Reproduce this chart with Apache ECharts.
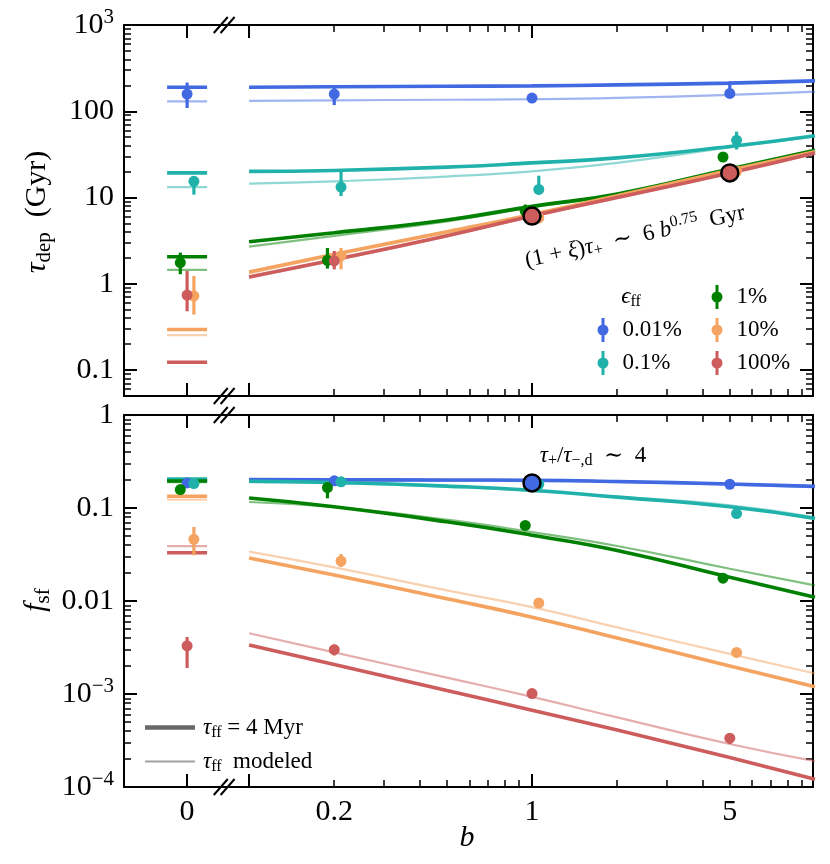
<!DOCTYPE html>
<html>
<head>
<meta charset="utf-8">
<script src="https://cdn.jsdelivr.net/npm/echarts@6/dist/echarts.min.js"></script>
<style>
html,body{margin:0;padding:0;background:#fff;}
#chart{width:830px;height:864px;}
</style>
</head>
<body>
<div id="chart"></div>
<script>
// ================= DATA =================
const effLabels = ['0.01%', '0.1%', '1%', '10%', '100%'];
const bPoints = [0, 0.2, 1, 5];              // simulated b values (points)
const bCurve = [0.1, 0.2, 0.5, 1, 2, 5, 10]; // b samples of model curves

// ---- top panel: tau_dep (Gyr) ----
const tauVal = [
  [158, 158, 142, 161],
  [15.4, 13.2, 12.4, 46],
  [1.76, 1.87, 6.95, 29.5],
  [0.72, 2.1, 5.8, 20.1],
  [0.74, 1.84, 6.1, 19.3]
];
const tauLo = [
  [109, 118, 134, 150],
  [10.8, 10.4, 10.8, 36],
  [1.29, 1.5, 6.0, 26],
  [0.44, 1.47, 5.2, 18.3],
  [0.48, 1.47, 5.6, 17.8]
];
const tauHi = [
  [215, 195, 150, 222],
  [17.6, 20.5, 17.9, 58],
  [2.3, 2.6, 8.3, 32],
  [1.23, 2.6, 6.5, 22],
  [1.41, 2.4, 6.7, 21]
];
const tauThick = [
  [190, 192, 195, 197, 202, 212, 225],
  [20.1, 20.6, 22.5, 25.2, 28.8, 39, 52],
  [3.07, 3.9, 5.5, 7.9, 11.0, 21.4, 35.2],
  [1.37, 2.2, 4.0, 6.35, 10.5, 20.7, 34],
  [1.2, 1.9, 3.6, 6.1, 10.0, 19.3, 32.9]
];
const tauThin = [
  [132, 134, 136, 138, 143, 155, 169],
  [14.5, 15.4, 17.5, 20.1, 25.2, 38, 51],
  [2.69, 3.6, 5.3, 7.7, 10.8, 21, 35.5],
  [1.32, 2.15, 3.9, 6.2, 10.3, 20.4, 33.6],
  [1.18, 1.86, 3.55, 6.0, 9.9, 19.1, 32.6]
];
const tauZeroThick = [190, 19.3, 2.06, 0.295, 0.123];
const tauZeroThin = [130, 13.2, 1.45, 0.254, 0.123];
const tauHighlight = [[4, 2], [4, 3]]; // [efficiency index, point index]

// ---- bottom panel: f_sf ----
const fsfVal = [
  [0.186, 0.196, 0.186, 0.18],
  [0.183, 0.191, 0.18, 0.087],
  [0.158, 0.166, 0.065, 0.0176],
  [0.046, 0.0269, 0.0095, 0.0028],
  [0.0033, 0.0030, 0.00101, 0.000335]
];
const fsfLo = [
  [0.178, 0.188, 0.178, 0.173],
  [0.176, 0.184, 0.173, 0.083],
  [0.152, 0.127, 0.062, 0.0168],
  [0.031, 0.0233, 0.0091, 0.00268],
  [0.0019, 0.0026, 0.00097, 0.00029]
];
const fsfHi = [
  [0.194, 0.204, 0.194, 0.187],
  [0.19, 0.198, 0.187, 0.091],
  [0.165, 0.18, 0.068, 0.0185],
  [0.0625, 0.032, 0.0099, 0.0029],
  [0.0041, 0.0034, 0.00105, 0.00037]
];
const fsfThick = [
  [0.202, 0.201, 0.200, 0.199, 0.193, 0.181, 0.171],
  [0.194, 0.188, 0.172, 0.155, 0.131, 0.103, 0.077],
  [0.128, 0.103, 0.071, 0.051, 0.035, 0.018, 0.011],
  [0.029, 0.019, 0.0106, 0.0067, 0.0040, 0.002, 0.0012],
  [0.00337, 0.00208, 0.00109, 0.00067, 0.00041, 0.000207, 0.000121]
];
const fsfThin = [
  [0.197, 0.197, 0.196, 0.195, 0.19, 0.178, 0.168],
  [0.19, 0.185, 0.17, 0.152, 0.133, 0.107, 0.080],
  [0.116, 0.102, 0.075, 0.055, 0.039, 0.0222, 0.0147],
  [0.034, 0.023, 0.013, 0.0086, 0.0052, 0.0027, 0.00166],
  [0.0045, 0.0028, 0.0015, 0.00093, 0.00056, 0.00029, 0.00019]
];
const fsfZeroThick = [0.2, 0.205, 0.195, 0.134, 0.033];
const fsfZeroThin = [0.198, 0.2, 0.19, 0.123, 0.039];
const fsfHighlight = [[0, 2]];

// tick specs
const xMajorB = [0, 0.1, 1, 10];
const xMinorB = [0.2, 0.3, 0.4, 0.5, 0.6, 0.7, 0.8, 0.9, 2, 3, 4, 5, 6, 7, 8, 9];
const xLabelB = [0, 0.2, 1, 5];

// ================= STYLE / SCALE =================
const colors = ['#4169E1', '#20B2AA', '#008000', '#F4A460', '#CD5C5C'];
const F = "'Liberation Serif','DejaVu Serif',serif";
const dodge = [0, 0.024, -0.024, 0.024, 0];   // horizontal dodge (dex)
// broken axis: log10(b) for b>0, b=0 placed left of the break
const ZERO_U = -1.219, BREAK_U = -1.088, XMIN = -1.442, XMAX = 0.993;
const L = Math.log10;
const u = b => (b === 0 ? ZERO_U : Math.log10(b));
const ZHALF = 20; // half width of b=0 segments (px)

function tick(vals, len, w) {
  return {show: true, inside: true, length: len, customValues: vals, lineStyle: {color: '#000', width: w}};
}
const spine = {show: true, onZero: false, lineStyle: {color: '#000', width: 2}};

function xAxisSet(g) {
  const base = {type: 'value', gridIndex: g, min: XMIN, max: XMAX, splitLine: {show: false},
    axisLabel: {show: false}, axisLine: {show: false, onZero: false}};
  const maj = xMajorB.map(u), mn = xMinorB.map(L);
  return [
    Object.assign({}, base, {position: 'bottom', axisLine: spine, axisTick: tick(maj, 13, 2),
      axisLabel: g === 1 ? {show: true, customValues: xLabelB.map(u), margin: 10, color: '#000',
        fontFamily: F, fontSize: 30,
        formatter: v => Math.abs(v - ZERO_U) < 1e-6 ? '0' : String(+Math.pow(10, v).toPrecision(3))}
        : {show: false}}),
    Object.assign({}, base, {position: 'bottom', axisTick: tick(mn, 7, 1.5)}),
    Object.assign({}, base, {position: 'top', axisLine: spine, axisTick: tick(maj, 13, 2)}),
    Object.assign({}, base, {position: 'top', axisTick: tick(mn, 7, 1.5)})
  ];
}

function yFmt(v) {
  const r = Math.round(v);
  if (r >= 3) return '{b|10}{sup|' + r + '}';
  if (r >= 0) return String(Math.pow(10, r));
  if (r >= -2) return r === -1 ? '0.1' : '0.01';
  return '{b|10}{sup|−' + (-r) + '}';
}
function yAxisSet(g, lo, hi) {
  const min = L(lo), max = L(hi);
  const maj = [], mn = [];
  for (let e = Math.floor(min); e <= Math.ceil(max); e++) {
    if (e >= min - 1e-9 && e <= max + 1e-9) maj.push(e);
    for (let k = 2; k <= 9; k++) {
      const t = e + L(k);
      if (t >= min - 1e-9 && t <= max + 1e-9) mn.push(t);
    }
  }
  const base = {type: 'value', gridIndex: g, min, max, splitLine: {show: false},
    axisLabel: {show: false}, axisLine: {show: false, onZero: false}};
  return [
    Object.assign({}, base, {position: 'left', axisLine: spine, axisTick: tick(maj, 13, 2),
      axisLabel: {show: true, customValues: maj, formatter: yFmt, margin: 10, color: '#000',
        fontFamily: F, fontSize: 30,
        rich: {b: {fontFamily: F, fontSize: 30, color: '#000'},
               sup: {fontFamily: F, fontSize: 21, color: '#000', padding: [0, 0, 16, 0]}}}}),
    Object.assign({}, base, {position: 'left', axisTick: tick(mn, 7, 1.5)}),
    Object.assign({}, base, {position: 'right', axisLine: spine, axisTick: tick(maj, 13, 2)}),
    Object.assign({}, base, {position: 'right', axisTick: tick(mn, 7, 1.5)})
  ];
}

function errRender(color) {
  return function (params, api) {
    const p1 = api.coord([api.value(0), api.value(1)]);
    const p2 = api.coord([api.value(0), api.value(2)]);
    return {type: 'line', shape: {x1: p1[0], y1: p1[1], x2: p2[0], y2: p2[1]},
      style: {stroke: color, lineWidth: 3.2}};
  };
}
function segRender(color, width, opacity) {
  return function (params, api) {
    const p = api.coord([api.value(0), api.value(1)]);
    return {type: 'line', shape: {x1: p[0] - ZHALF, y1: p[1], x2: p[0] + ZHALF, y2: p[1]},
      style: {stroke: color, lineWidth: width, opacity: opacity}};
  };
}

function panelSeries(p, vals, lo, hi, thick, thin, zThick, zThin, hl) {
  const xi = p * 4, yi = p * 4;
  const out = [];
  for (let i = 0; i < 5; i++) {
    const c = colors[i];
    out.push({type: 'line', xAxisIndex: xi, yAxisIndex: yi, silent: true, symbol: 'none',
      smooth: 0.5, z: 2,
      data: bCurve.map((b, k) => [u(b), L(thin[i][k])]),
      lineStyle: {color: c, width: 2.2, opacity: 0.5}});
    out.push({type: 'line', xAxisIndex: xi, yAxisIndex: yi, silent: true, symbol: 'none',
      smooth: 0.5, z: 3,
      data: bCurve.map((b, k) => [u(b), L(thick[i][k])]),
      lineStyle: {color: c, width: 3.6}});
    out.push({type: 'custom', xAxisIndex: xi, yAxisIndex: yi, silent: true, z: 2,
      data: [[u(0), L(zThin[i])]], renderItem: segRender(c, 2.2, 0.5)});
    out.push({type: 'custom', xAxisIndex: xi, yAxisIndex: yi, silent: true, z: 3,
      data: [[u(0), L(zThick[i])]], renderItem: segRender(c, 3.6, 1)});
    out.push({type: 'custom', xAxisIndex: xi, yAxisIndex: yi, silent: true, z: 4,
      data: bPoints.map((b, k) => [u(b) + dodge[i], L(lo[i][k]), L(hi[i][k])]),
      renderItem: errRender(c)});
    out.push({type: 'scatter', name: effLabels[i], xAxisIndex: xi, yAxisIndex: yi, silent: true, z: 5,
      symbolSize: 11, itemStyle: {color: c, opacity: 1},
      data: bPoints.map((b, k) => [u(b) + dodge[i], L(vals[i][k])])});
  }
  out.push({type: 'scatter', xAxisIndex: xi, yAxisIndex: yi, silent: true, z: 6, symbolSize: 17,
    data: hl.map(([i, k]) => ({value: [u(bPoints[k]) + dodge[i], L(vals[i][k])],
      itemStyle: {color: colors[i], borderColor: '#000', borderWidth: 2.5, opacity: 1}}))});
  return out;
}

const series = []
  .concat(panelSeries(0, tauVal, tauLo, tauHi, tauThick, tauThin, tauZeroThick, tauZeroThin, tauHighlight))
  .concat(panelSeries(1, fsfVal, fsfLo, fsfHi, fsfThick, fsfThin, fsfZeroThick, fsfZeroThin, fsfHighlight));
// legend key series for line styles
series.push({type: 'scatter', name: 'keyThick', xAxisIndex: 4, yAxisIndex: 4, data: []});
series.push({type: 'scatter', name: 'keyThin', xAxisIndex: 4, yAxisIndex: 4, data: []});

const EB_ICON = 'path://M4,0 L7,0 L7,24 L4,24 Z M0,12 A5.5,5.5 0 1 1 11,12 A5.5,5.5 0 1 1 0,12 Z';
function effLegend(idx, left, top) {
  return {orient: 'vertical', left: left, top: top, padding: 0, itemGap: 9, itemWidth: 11, itemHeight: 24,
    selectedMode: false,
    textStyle: {fontFamily: F, fontSize: 23, color: '#000', padding: [0, 0, 0, 9]},
    data: idx.map(i => ({name: effLabels[i], icon: EB_ICON, itemStyle: {color: colors[i]}}))};
}
const keyRich = {
  n: {fontFamily: F, fontSize: 23, color: '#000'},
  i: {fontFamily: F, fontSize: 23, fontStyle: 'italic', color: '#000'},
  s: {fontFamily: F, fontSize: 16, color: '#000', padding: [10, 0, 0, 0]}
};
function keyLegend(name, color, h, top) {
  return {orient: 'vertical', left: 145, top: top, padding: 0, itemWidth: 50, itemHeight: h,
    selectedMode: false,
    formatter: n => n === 'keyThick' ? '{i|τ}{s|ff}{n| = 4 Myr}' : '{i|τ}{s|ff}{n|  modeled}',
    textStyle: {rich: keyRich, padding: [0, 0, 0, 3]},
    data: [{name: name, icon: 'rect', itemStyle: {color: color}}]};
}

function richSet(S) {
  const s = Math.round(S * 0.7);
  return {
    n: {fontSize: S, fontFamily: F, fill: '#000'},
    i: {fontSize: S, fontFamily: F, fontStyle: 'italic', fill: '#000'},
    sub: {fontSize: s, fontFamily: F, fill: '#000', padding: [Math.round(S * 0.45), 0, 0, 0]},
    sup: {fontSize: s, fontFamily: F, fill: '#000', padding: [0, 0, Math.round(S * 0.55), 0]}
  };
}
function txt(id, x, y, text, S, opts) {
  return Object.assign({type: 'text', id: id, x: x, y: y, z: 100, silent: true,
    style: {text: text, rich: richSet(S), fontSize: S, fontFamily: F, fill: '#000',
      align: 'center', verticalAlign: 'middle'}}, opts || {});
}

const graphics = [
  txt('ylab1', 37, 212, '{i|τ}{sub|dep}{n|  (Gyr)}', 30, {rotation: Math.PI / 2}),
  txt('ylab2', 36, 600, '{i|f}{sub|sf}', 30, {rotation: Math.PI / 2}),
  txt('xlab', 467, 838, '{i|b}', 30),
  txt('ann1', 635, 237, '{n|(1 + }{i|ξ}{n|)}{i|τ}{sub|+}{n|  ∼  6 }{i|b}{sup|0.75}{n|  Gyr}', 23,
      {rotation: 12.5 * Math.PI / 180}),
  txt('ann2', 593, 456, '{i|τ}{sub|+}{n|/}{i|τ}{sub|−,d}{n|  ∼  4}', 23),
  txt('efft', 631, 297, '{i|ϵ}{sub|ff}', 23)
];

const option = {
  animation: false,
  backgroundColor: '#fff',
  grid: [
    {left: 124, top: 25, width: 689, height: 371, containLabel: false, outerBoundsMode: 'none'},
    {left: 124, top: 415, width: 689, height: 372, containLabel: false, outerBoundsMode: 'none'}
  ],
  xAxis: xAxisSet(0).concat(xAxisSet(1)),
  yAxis: yAxisSet(0, 0.05, 1000).concat(yAxisSet(1, 1e-4, 1)),
  legend: [
    effLegend([0, 1], 597.5, 318),
    effLegend([2, 3, 4], 711.5, 285),
    keyLegend('keyThick', '#444', 4.5, 716),
    keyLegend('keyThin', '#888', 2.2, 750)
  ],
  graphic: graphics,
  series: series
};

const chart = echarts.init(document.getElementById('chart'), null, {renderer: 'canvas'});
chart.setOption(option);

// axis-break marks, placed with the axes' own scales
const bx = chart.convertToPixel({xAxisIndex: 0}, BREAK_U);
const spinesY = [
  chart.convertToPixel({yAxisIndex: 0}, L(1000)), chart.convertToPixel({yAxisIndex: 0}, L(0.05)),
  chart.convertToPixel({yAxisIndex: 4}, L(1)), chart.convertToPixel({yAxisIndex: 4}, L(1e-4))
];
const marks = [];
spinesY.forEach((y, j) => {
  [-3.4, 3.4].forEach((d, q) => {
    marks.push({type: 'line', id: 'brk' + j + '_' + q, z: 110, silent: true,
      shape: {x1: bx + d - 7, y1: y + 8, x2: bx + d + 7, y2: y - 8},
      style: {stroke: '#000', lineWidth: 2}});
  });
});
chart.setOption({graphic: graphics.concat(marks)});
</script>
</body>
</html>
